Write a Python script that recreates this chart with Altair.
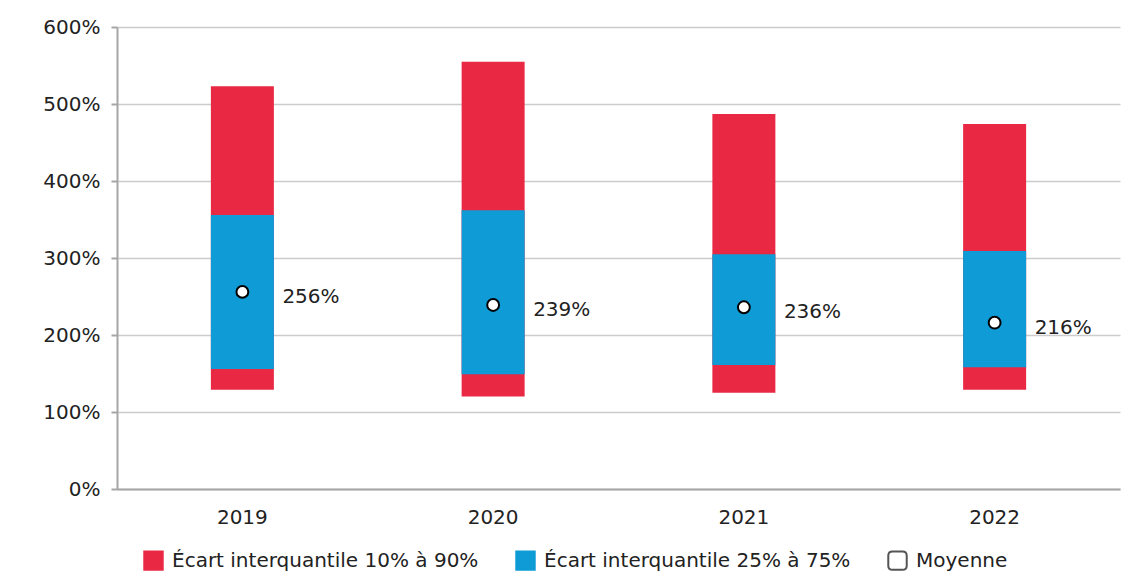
import altair as alt
import pandas as pd

years = ["2019", "2020", "2021", "2022"]
p10 = [129, 120, 125, 129]
p25 = [156, 149, 161, 158]
p75 = [356, 362, 305, 309]
p90 = [523, 555, 487, 474]
means = [256, 239, 236, 216]

S1 = "Écart interquantile 10% à 90%"
S2 = "Écart interquantile 25% à 75%"
S3 = "Moyenne"
series = [S1, S2, S3]
RED = "#E92944"
BLUE = "#0E9BD6"

rows = []
for i, y in enumerate(years):
    rows.append({"year": y, "lo": p10[i], "hi": p90[i], "series": S1})
for i, y in enumerate(years):
    rows.append({"year": y, "lo": p25[i], "hi": p75[i], "series": S2})
bars_df = pd.DataFrame(rows)
mean_df = pd.DataFrame({"year": years, "mean": means,
                        "label": [f"{m}%" for m in means]})
legend_df = pd.DataFrame({"series": series, "year": [years[0]] * 3,
                          "v": [0, 0, 0]})

FONT = "DejaVu Sans"
FS = 20
ROUNDSQ = ("M -0.55 -1 L 0.55 -1 Q 1 -1 1 -0.55 L 1 0.55 Q 1 1 0.55 1 "
           "L -0.55 1 Q -1 1 -1 0.55 L -1 -0.55 Q -1 -1 -0.55 -1 Z")

leg = alt.Legend(title=None, orient="none", direction="horizontal",
                 legendX=26, legendY=523,
                 labelFontSize=FS, labelFont=FONT, labelColor="#222",
                 symbolSize=340, symbolStrokeWidth=2, symbolOpacity=1,
                 labelOffset=8, columnPadding=33, labelLimit=400)

xenc = alt.X("year:N", sort=years, title=None,
             scale=alt.Scale(paddingInner=0, paddingOuter=0),
             axis=alt.Axis(labelAngle=0, ticks=False, labelFontSize=FS,
                           labelPadding=18, domainColor="#a6a6a6",
                           domainWidth=2, labelColor="#222"))
yscale = alt.Scale(domain=[0, 600], nice=False)

color_scale = alt.Scale(domain=series, range=[RED, BLUE, "white"])

bars = alt.Chart(bars_df).mark_bar(width=63).encode(
    x=xenc,
    y=alt.Y("lo:Q", scale=yscale, title=None,
            axis=alt.Axis(values=[0, 100, 200, 300, 400, 500, 600],
                          labelExpr="datum.value + '%'", labelFontSize=FS,
                          labelColor="#222", labelPadding=11,
                          tickSize=6, tickColor="#a6a6a6", tickWidth=2,
                          domainColor="#a6a6a6", domainWidth=2,
                          gridColor="#cccccc", gridWidth=1.5)),
    y2="hi:Q",
    color=alt.Color("series:N", scale=color_scale, legend=leg),
)

legend_layer = alt.Chart(legend_df).mark_point(filled=True, opacity=0).encode(
    x=alt.X("year:N", sort=years),
    y=alt.Y("v:Q", scale=yscale),
    color=alt.Color("series:N", scale=color_scale, legend=leg),
    shape=alt.Shape("series:N", scale=alt.Scale(domain=series,
                                                range=["square", "square", ROUNDSQ]),
                    legend=leg),
    stroke=alt.Stroke("series:N", scale=alt.Scale(domain=series,
                                                  range=[RED, BLUE, "#555555"]),
                      legend=leg),
)

points = alt.Chart(mean_df).mark_point(filled=True, fill="white", stroke="black",
                                       strokeWidth=2, size=140, opacity=1,
                                       shape="circle").encode(
    x=alt.X("year:N", sort=years),
    y=alt.Y("mean:Q", scale=yscale),
)

labels = alt.Chart(mean_df).mark_text(align="left", dx=40, dy=5, fontSize=FS,
                                      font=FONT, color="#222").encode(
    x=alt.X("year:N", sort=years),
    y=alt.Y("mean:Q", scale=yscale),
    text="label:N",
)

chart = alt.layer(bars, points, labels, legend_layer).properties(
    width=1003, height=462,
    autosize=alt.AutoSizeParams(type="none"),
    padding={"left": 117, "top": 27, "right": 12, "bottom": 86},
).configure_view(stroke=None).configure_axis(
    labelFont=FONT
)

chart.save("out.html", embed_options={"renderer": "svg", "actions": False})
